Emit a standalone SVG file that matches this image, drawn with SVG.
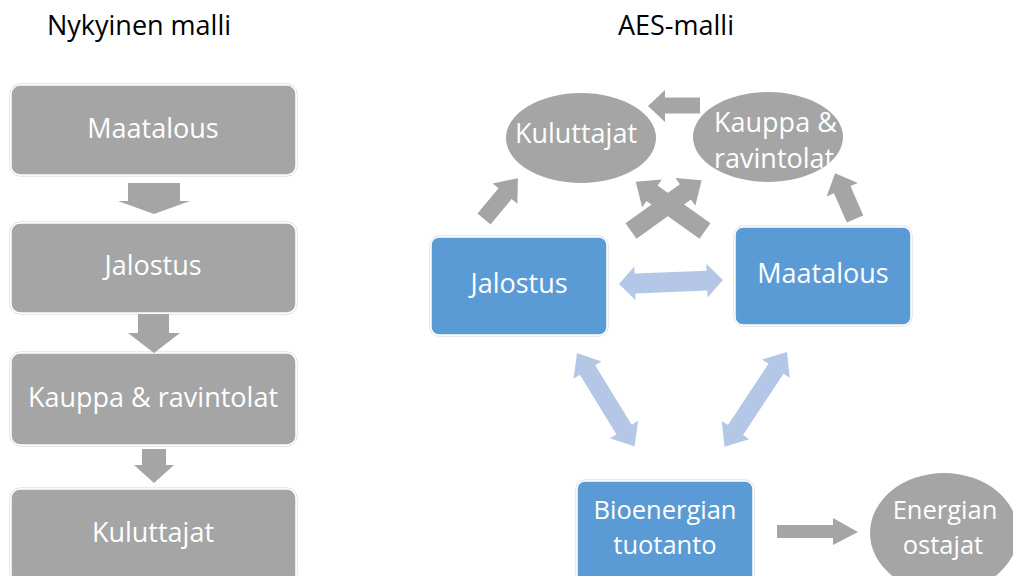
<svg xmlns="http://www.w3.org/2000/svg" width="1013" height="576" viewBox="0 0 1013 576">
<style>
.t{font-family:"Open Sans","Liberation Sans",sans-serif;font-size:27px;fill:#000}
.w{font-family:"Open Sans","Liberation Sans",sans-serif;font-size:27px;fill:#fff}
.w2{font-family:"Open Sans","Liberation Sans",sans-serif;font-size:25.5px;fill:#fff}
.gbox{fill:#a5a5a5;stroke:#fff;stroke-width:1.5}
.bbox{fill:#5b9bd5;stroke:#fff;stroke-width:1.5}
.out{fill:none;stroke:#d4d4d4;stroke-width:1}
.gray{fill:#a5a5a5}
.lb{fill:#b4c7e7}
</style>
<rect width="1013" height="576" fill="#fff"/>
<text class="t" x="139" y="35" text-anchor="middle">Nykyinen malli</text>
<text class="t" x="676" y="35" text-anchor="middle">AES-malli</text>

<g id="n-maatalous-left">
<rect class="out" x="10" y="84" width="287" height="92" rx="10"/>
<rect class="gbox" x="11" y="85" width="285" height="90" rx="9"/>
<text class="w" x="153" y="138" text-anchor="middle">Maatalous</text>
</g>
<g id="n-jalostus-left">
<rect class="out" x="10" y="222" width="287" height="92" rx="10"/>
<rect class="gbox" x="11" y="223" width="285" height="90" rx="9"/>
<text class="w" x="153" y="275" text-anchor="middle">Jalostus</text>
</g>
<g id="n-kauppa-left">
<rect class="out" x="10" y="352" width="287" height="94" rx="10"/>
<rect class="gbox" x="11" y="353" width="285" height="92" rx="9"/>
<text class="w" x="153" y="407" text-anchor="middle">Kauppa &amp; ravintolat</text>
</g>
<g id="n-kuluttajat-left">
<rect class="out" x="10" y="488" width="287" height="96" rx="10"/>
<rect class="gbox" x="11" y="489" width="285" height="94" rx="9"/>
<text class="w" x="153" y="542" text-anchor="middle">Kuluttajat</text>
</g>

<g id="n-kuluttajat">
<ellipse class="gray" cx="581" cy="138" rx="75" ry="45"/>
<text class="w" x="576" y="143" text-anchor="middle">Kuluttajat</text>
</g>
<g id="n-kauppa">
<ellipse class="gray" cx="768" cy="137" rx="75" ry="45"/>
<text class="w" x="714" y="132">Kauppa &amp;</text>
<text class="w" x="714" y="168">ravintolat</text>
</g>
<g id="n-jalostus">
<rect class="out" x="430" y="236" width="178" height="100" rx="9"/>
<rect class="bbox" x="431" y="237" width="176" height="98" rx="8"/>
<text class="w" x="519" y="293" text-anchor="middle">Jalostus</text>
</g>
<g id="n-maatalous">
<rect class="out" x="734" y="226" width="178" height="100" rx="9"/>
<rect class="bbox" x="735" y="227" width="176" height="98" rx="8"/>
<text class="w" x="823" y="283" text-anchor="middle">Maatalous</text>
</g>
<g id="n-bioenergia">
<rect class="out" x="576" y="480" width="178" height="106" rx="9"/>
<rect class="bbox" x="577" y="481" width="176" height="104" rx="8"/>
<text class="w2" x="665" y="518.5" text-anchor="middle">Bioenergian</text>
<text class="w2" x="665" y="553.5" text-anchor="middle">tuotanto</text>
</g>
<g id="n-energian-ostajat">
<ellipse class="gray" cx="944" cy="533" rx="74" ry="60"/>
<text class="w2" x="945" y="518.5" text-anchor="middle">Energian</text>
<text class="w2" x="943" y="553.5" text-anchor="middle">ostajat</text>
</g>

<g id="connectors">
<path class="gray" d="M128,183 L180,183 L180,201 L190,201 L154,214 L118,201 L128,201 Z"/>
<path class="gray" d="M138,314 L169,314 L169,333 L180,333 L154,353 L128,333 L138,333 Z"/>
<path class="gray" d="M142,449 L166,449 L166,465 L174,465 L154,483 L134,465 L142,465 Z"/>

<path class="gray" transform="translate(484,219) rotate(-50.3)" d="M0,-8.5 L33,-8.5 L33,-16 L53,0 L33,16 L33,8.5 L0,8.5Z"/>
<path class="gray" transform="translate(705,231) rotate(-144.6)" d="M0,-9.5 L65,-9.5 L65,-17 L85,0 L65,17 L65,9.5 L0,9.5Z"/>
<path class="gray" transform="translate(631,231) rotate(-35.7)" d="M0,-9.5 L67,-9.5 L67,-17 L87,0 L67,17 L67,9.5 L0,9.5Z"/>
<path class="gray" transform="translate(855,219) rotate(-113.5)" d="M0,-9 L32,-9 L32,-17 L50,0 L32,17 L32,9 L0,9Z"/>
<path class="gray" d="M700,97.5 L665,97.5 L665,90 L648,106 L665,122 L665,113.5 L700,113.5Z"/>
<path class="gray" d="M777,525 L833,525 L833,518 L858,532 L833,545 L833,538 L777,538Z"/>

<path class="lb" transform="translate(619,284) rotate(-2.2)" d="M0,0 L16,-17 L16,-10 L88,-10 L88,-17 L104,0 L88,17 L88,10 L16,10 L16,17Z"/>
<path class="lb" transform="translate(577,353) rotate(58.4)" d="M0,0 L20,-16.5 L20,-9 L89.8,-9 L89.8,-16.5 L109.8,0 L89.8,16.5 L89.8,9 L20,9 L20,16.5Z"/>
<path class="lb" transform="translate(787,352) rotate(123.4)" d="M0,0 L20,-16.5 L20,-9 L93.5,-9 L93.5,-16.5 L113.5,0 L93.5,16.5 L93.5,9 L20,9 L20,16.5Z"/>
</g>
</svg>
